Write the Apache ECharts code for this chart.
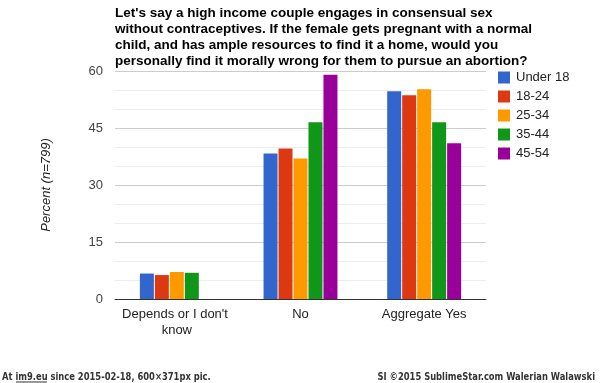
<!DOCTYPE html>
<html><head><meta charset="utf-8">
<script src="https://cdn.jsdelivr.net/npm/echarts@6/dist/echarts.min.js"></script>
<style>html,body{margin:0;padding:0;background:#fff}#c{width:600px;height:383px}</style>
</head><body><div id="c"></div>
<script>
var titleText = "Let's say a high income couple engages in consensual sex\nwithout contraceptives. If the female gets pregnant with a normal\nchild, and has ample resources to find it a home, would you\npersonally find it morally wrong for them to pursue an abortion?";
var categories = ["Depends or I don't know", "No", "Aggregate Yes"];
var seriesNames = ["Under 18", "18-24", "25-34", "35-44", "45-54"];
var under18 = [6.7, 38.3, 54.7];
var age18to24 = [6.3, 39.6, 53.6];
var age25to34 = [7.1, 37.0, 55.2];
var age35to44 = [6.9, 46.5, 46.5];
var age45to54 = [0, 59.0, 41.0];
var yTicks = [0, 15, 30, 45, 60];
var yAxisTitle = "Percent (n=799)";
var footerLeft = "At im9.eu since 2015-02-18, 600\u00d7371px pic.";
var footerRight = "SI \u00a92015 SublimeStar.com Walerian Walawski";

var colors = ['#3366cc', '#dc3912', '#ff9900', '#109618', '#990099'];
var values = [under18, age18to24, age25to34, age35to44, age45to54];
var chart = echarts.init(document.getElementById('c'), null, {renderer: 'canvas'});
var FONT = "'Liberation Sans', Arial, sans-serif";
var FOOTFONT = "bold 10px 'DejaVu Sans Condensed', 'Open Sans', sans-serif";
chart.setOption({
  animation: false,
  color: colors,
  textStyle: {fontFamily: FONT},
  title: {
    text: titleText, left: 115, top: 5.5, padding: 0,
    textStyle: {fontFamily: FONT, fontSize: 13.5, fontWeight: 'bold', color: '#000', lineHeight: 15.8}
  },
  legend: {
    orient: 'vertical', left: 498, top: 71, padding: 0, icon: 'rect',
    itemWidth: 12, itemHeight: 12, itemGap: 6,
    textStyle: {fontFamily: FONT, fontSize: 13, color: '#222', padding: [0, 0, 0, 1]},
    data: seriesNames
  },
  grid: {left: 115, right: 114, top: 71, bottom: 84, containLabel: false},
  xAxis: {
    type: 'category', data: categories,
    axisLine: {lineStyle: {color: '#333', width: 1}},
    axisTick: {show: false},
    axisLabel: {fontFamily: FONT, fontSize: 13, color: '#222', margin: 7, lineHeight: 16,
      width: 122, overflow: 'break', interval: 0}
  },
  yAxis: {
    type: 'value', min: yTicks[0], max: yTicks[yTicks.length - 1], interval: 15,
    name: yAxisTitle, nameLocation: 'middle', nameRotate: 90, nameGap: 62,
    nameTextStyle: {fontFamily: FONT, fontSize: 13, fontStyle: 'italic', color: '#222'},
    axisLine: {show: false}, axisTick: {show: false},
    axisLabel: {fontFamily: FONT, fontSize: 13, color: '#444', margin: 12},
    splitLine: {lineStyle: {color: '#cccccc', width: 1}},
    minorTick: {show: false, splitNumber: 3},
    minorSplitLine: {show: true, lineStyle: {color: '#ededed', width: 1}}
  },
  series: seriesNames.map(function (n, i) {
    return {name: n, type: 'bar', data: values[i], barWidth: 14, barGap: '7%',
      itemStyle: {color: colors[i]}};
  }),
  graphic: [
    {type: 'text', x: 2, y: 372, scaleX: 0.93, style: {text: footerLeft, font: FOOTFONT, fill: '#333'}},
    {type: 'line', shape: {x1: 16, y1: 382, x2: 47, y2: 382}, style: {stroke: '#333', lineWidth: 1}},
    {type: 'text', x: 595, y: 372, scaleX: 0.93, style: {text: footerRight, font: FOOTFONT, fill: '#333', align: 'right'}}
  ]
});
</script></body></html>
